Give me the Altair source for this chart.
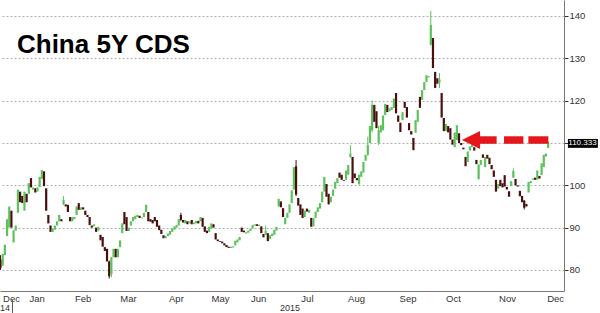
import json
import altair as alt
import pandas as pd

GREEN = "#5cc25c"
DARK = "#4a0e0e"
RED = "#e3161c"
FONT = "Liberation Sans"

# ---- candles (open / close) per month ----
OPEN_DEC14 = [82.5, 81.0, 83.5, 88.0, 90.0, 94.0]
CLOSE_DEC14 = [80.5, 83.8, 86.0, 92.0, 95.0, 90.0]
OPEN_JAN = [86.5, 89.3, 93.5, 98.5, 97.5, 94.0, 98.0, 98.0, 101.7, 99.0, 99.3, 98.5,
            99.6, 101.5, 103.3, 99.3, 93.0, 90.5, 89.0, 89.5, 90.5, 91.5, 92.0]
CLOSE_JAN = [89.4, 90.5, 99.0, 96.0, 95.8, 98.5, 96.0, 100.5, 99.5, 99.5, 98.3, 99.5,
             102.0, 103.6, 99.8, 94.0, 91.0, 89.0, 89.8, 90.5, 91.5, 93.0, 91.5]
OPEN_FEB = [95.5, 95.5, 95.4, 92.5, 91.5, 92.0, 93.0, 95.8, 94.2, 94.8, 94.0, 93.0,
            92.5, 90.5, 90.3, 90.0, 89.3, 88.3, 87.8, 85.4]
CLOSE_FEB = [96.5, 95.0, 93.7, 91.5, 92.5, 92.5, 95.0, 94.2, 94.8, 94.3, 93.0, 92.5,
             90.6, 90.0, 90.8, 89.0, 90.2, 87.0, 85.5, 84.5]
OPEN_MAR = [85.0, 82.0, 79.0, 83.0, 85.0, 83.0, 85.4, 88.7, 93.7, 92.5, 89.2, 90.5,
            91.5, 92.0, 92.5, 92.8, 92.2, 92.5, 93.7, 93.7, 92.0, 91.8]
CLOSE_MAR = [82.0, 78.5, 83.0, 85.0, 83.0, 85.0, 87.0, 91.0, 90.8, 89.2, 90.0, 91.5,
             92.5, 92.8, 93.0, 92.3, 92.4, 93.5, 95.4, 91.5, 91.4, 91.0]
OPEN_APR = [92.5, 91.8, 90.5, 89.5, 88.2, 87.5, 88.0, 88.3, 89.0, 89.5, 90.0, 90.5,
            93.0, 91.8, 91.0, 91.5, 91.0, 91.8, 90.8, 91.0, 91.6, 91.5]
CLOSE_APR = [91.5, 90.2, 89.4, 88.5, 87.5, 88.0, 88.6, 89.2, 89.8, 90.3, 90.6, 92.0,
             91.8, 91.2, 91.8, 90.8, 91.5, 90.8, 91.2, 91.6, 91.0, 92.5]
OPEN_MAY = [92.3, 90.3, 89.3, 89.0, 89.8, 90.8, 88.7, 87.2, 86.8, 86.7, 86.3, 85.9,
            85.5, 85.2, 85.3, 85.8, 86.5, 87.0]
CLOSE_MAY = [90.2, 89.0, 88.7, 90.2, 91.0, 90.0, 87.2, 86.8, 86.6, 86.3, 85.8, 85.4,
             85.2, 85.5, 85.6, 86.9, 87.2, 87.8]
OPEN_JUN = [90.0, 89.3, 88.6, 88.8, 89.2, 89.8, 90.5, 90.8, 90.4, 90.3, 88.5, 88.3,
            88.7, 87.3, 88.0, 88.3, 89.3, 95.0]
CLOSE_JUN = [89.0, 88.9, 88.9, 89.3, 89.7, 90.6, 90.8, 90.4, 90.7, 88.7, 87.7, 89.2,
             86.8, 88.2, 88.6, 89.5, 90.2, 96.8]
OPEN_JUL = [96.2, 94.6, 90.8, 92.3, 93.5, 95.8, 99.0, 104.5, 97.0, 95.5, 94.5, 92.5,
            94.5, 93.5, 92.3, 90.3, 92.3, 93.7, 94.5, 96.0, 98.5, 100.3, 98.0, 96.0, 97.5]
CLOSE_JUL = [94.8, 92.5, 92.3, 93.5, 95.5, 98.8, 104.3, 97.8, 95.2, 93.0, 92.3, 94.0,
             93.8, 94.2, 90.2, 92.3, 93.8, 94.8, 95.8, 98.5, 102.0, 97.3, 95.5, 97.3, 99.0]
OPEN_AUG = [99.2, 100.5, 103.0, 102.5, 101.2, 101.3, 102.5, 106.7, 106.7, 102.8, 101.7,
            100.2, 102.0, 103.0, 105.8, 107.2, 110.0, 113.0, 119.0, 117.5, 110.0, 112.5, 113.0]
CLOSE_AUG = [100.8, 101.7, 101.8, 101.3, 101.0, 103.5, 104.8, 107.5, 100.5, 101.7, 101.2,
             102.5, 103.3, 105.5, 107.2, 109.5, 114.0, 119.0, 115.0, 113.5, 113.0, 114.2, 116.5]
OPEN_SEP = [116.6, 119.0, 117.5, 117.8, 118.3, 121.8, 116.5, 114.8, 115.4, 119.7, 118.5, 114.7,
            112.8, 111.2, 112.4, 115.0, 120.9, 120.2, 122.5, 124.4, 125.5, 133.2, 134.8, 126.8]
CLOSE_SEP = [119.2, 117.3, 118.2, 118.5, 120.5, 117.0, 115.0, 112.6, 117.3, 118.3, 116.0, 113.0,
             112.0, 108.3, 115.4, 117.8, 118.3, 122.5, 124.4, 126.0, 125.8, 137.9, 127.7, 123.0]
OPEN_OCT = [125.3, 124.3, 121.8, 115.9, 112.8, 114.0, 113.5, 110.8, 109.0, 110.7, 112.3, 110.0,
            108.9, 106.7, 105.5, 108.2, 109.0, 109.0, 106.0, 101.5, 104.8, 107.3, 104.3, 107.2]
CLOSE_OCT = [124.0, 125.0, 116.0, 112.8, 114.5, 112.5, 110.8, 109.6, 112.5, 114.2, 110.0, 109.5,
             108.5, 104.5, 108.0, 109.2, 109.5, 108.2, 105.0, 104.8, 106.0, 106.5, 106.7, 106.3]
OPEN_NOV = [106.5, 104.8, 103.5, 101.3, 99.2, 101.3, 100.5, 102.4, 99.6, 98.6, 99.8, 101.8,
            101.5, 100.0, 98.7, 97.5, 96.4, 95.6]
CLOSE_NOV = [105.0, 103.8, 102.0, 98.5, 100.3, 99.8, 99.5, 99.7, 99.0, 97.3, 101.0, 103.4,
             100.0, 99.7, 97.4, 96.0, 94.7, 95.0]
OPEN_DEC15 = [98.3, 100.5, 101.3, 101.8, 101.3, 102.2, 102.4, 104.3, 106.8, 108.8]
CLOSE_DEC15 = [100.8, 101.0, 101.6, 101.3, 103.5, 101.6, 105.2, 107.2, 107.5, 110.333]

MONTH_OPENS = [OPEN_DEC14, OPEN_JAN, OPEN_FEB, OPEN_MAR, OPEN_APR, OPEN_MAY, OPEN_JUN,
               OPEN_JUL, OPEN_AUG, OPEN_SEP, OPEN_OCT, OPEN_NOV, OPEN_DEC15]
MONTH_CLOSES = [CLOSE_DEC14, CLOSE_JAN, CLOSE_FEB, CLOSE_MAR, CLOSE_APR, CLOSE_MAY, CLOSE_JUN,
                CLOSE_JUL, CLOSE_AUG, CLOSE_SEP, CLOSE_OCT, CLOSE_NOV, CLOSE_DEC15]

# visible wicks: candle index, low, high
WICK_IDX = [0, 29, 50, 51, 83, 122, 136, 161, 169, 171, 174, 198, 202, 220, 236, 241]
WICK_LOW = [80.0, 95.3, 78.0, 78.3, 91.5, 88.3, 97.5, 106.5, 107.0, 112.5, 109.5, 133.0, 123.0, 101.3, 101.8, 94.3]
WICK_HIGH = [83.5, 97.5, 82.2, 83.0, 93.5, 90.5, 106.0, 109.5, 111.5, 120.0, 114.0, 141.2, 126.5, 105.0, 104.0, 96.5]

MONTH_NAMES = ["Dec", "Jan", "Feb", "Mar", "Apr", "May", "Jun", "Jul", "Aug", "Sep", "Oct", "Nov", "Dec"]
MONTH_LABEL_POS = [4.8, 16.6, 37.8, 58.65, 80.7, 101.0, 118.5, 141.0, 163.6, 187.3, 208.2, 233.1, 255.2]
Y_TICKS = [80, 85, 90, 95, 100, 105, 110, 115, 120, 125, 130, 135, 140]
X_DOMAIN = [-0.25, 259.3]
Y_DOMAIN = [75.03, 143.78]

LAST_PRICE = "110.333"
ARROW_Y = 110.7
ARROW_HEAD_X = 216.5
ARROW_SEG_START = [220.6, 231.7, 242.9]
ARROW_SEG_END = [228.3, 240.6, 252.1]

# ---- tables ----
opens, closes, starts = [], [], []
for o, c in zip(MONTH_OPENS, MONTH_CLOSES):
    starts.append(len(opens))
    opens += o
    closes += c
BOUNDS = [s - 0.5 for s in starts[1:]]

df = pd.DataFrame({"x": list(range(len(opens))), "y": opens, "y2": closes})
df["dir"] = ["up" if c >= o else "down" for o, c in zip(opens, closes)]
wick = pd.DataFrame({"x": WICK_IDX, "y": WICK_LOW, "y2": WICK_HIGH})
wick["dir"] = ["up" if closes[k] >= opens[k] else "down" for k in WICK_IDX]

xscale = alt.Scale(domain=X_DOMAIN, nice=False, zero=False)
yscale = alt.Scale(domain=Y_DOMAIN, nice=False, zero=False)
cscale = alt.Scale(domain=["up", "down"], range=[GREEN, DARK])

bt = f"indexof({json.dumps(BOUNDS)}, datum.value) >= 0"
lp = json.dumps(MONTH_LABEL_POS)
label_expr = f"indexof({lp}, datum.value) >= 0 ? {json.dumps(MONTH_NAMES)}[indexof({lp}, datum.value)] : ''"

xaxis = alt.Axis(
    values=BOUNDS + MONTH_LABEL_POS, labelExpr=label_expr, title=None,
    tickSize=4, tickColor="#555",
    tickOpacity={"condition": {"test": bt, "value": 1}, "value": 0},
    grid=True, gridColor="#b0b0b0", gridDash=[2, 2],
    gridOpacity={"condition": {"test": bt, "value": 1}, "value": 0},
    domainColor="#777", labelFont=FONT, labelFontSize=9.5, labelColor="#333",
    labelPadding=-2, labelAngle=0, labelFlush=False, labelOverlap=False, zindex=0,
)
yaxis = alt.Axis(
    orient="right", values=Y_TICKS, title=None,
    labelExpr="datum.value % 10 === 0 && datum.value !== 110 ? datum.label : ''",
    tickSize={"condition": {"test": "datum.value % 10 === 0", "value": 4}, "value": 2},
    tickColor="#333",
    grid=True, gridColor="#b0b0b0", gridDash=[2, 2],
    gridOpacity={"condition": {"test": "datum.value % 10 === 0", "value": 1}, "value": 0},
    domainColor="#777", labelFont=FONT, labelFontSize=9.5, labelColor="#333",
    labelPadding=1, labelFlush=False, labelOverlap=False, zindex=0,
)

X = alt.X("x:Q", scale=xscale)
Y = alt.Y("y:Q", scale=yscale)

bodies = alt.Chart(df).mark_rule(strokeWidth=2.2).encode(
    x=alt.X("x:Q", scale=xscale, axis=xaxis),
    y=alt.Y("y:Q", scale=yscale, axis=yaxis), y2="y2:Q",
    color=alt.Color("dir:N", scale=cscale, legend=None),
)
wicks = alt.Chart(wick).mark_rule(strokeWidth=1).encode(
    x=X, y=Y, y2="y2:Q", color=alt.Color("dir:N", scale=cscale, legend=None),
)

# title
title_df = pd.DataFrame({"x": [7.57], "y": [131.33], "t": ["China 5Y CDS"]})
title = alt.Chart(title_df).mark_text(
    align="left", baseline="alphabetic", font=FONT, fontSize=26, fontWeight="bold", color="#000"
).encode(x=X, y=Y, text="t:N")

# arrow
seg_df = pd.DataFrame({"x": ARROW_SEG_START, "x2": ARROW_SEG_END, "y": [ARROW_Y] * 3})
shaft = alt.Chart(seg_df).mark_rule(strokeWidth=7.5, color=RED).encode(x=X, x2="x2:Q", y=Y)
head_df = pd.DataFrame({"x": [ARROW_HEAD_X], "y": [ARROW_Y]})
head = alt.Chart(head_df).mark_point(
    shape="M-1,0L1,-1L1,1Z", filled=True, size=330, color=RED, opacity=1, strokeWidth=0
).encode(x=X, y=Y)

# last price box on the right axis
box_df = pd.DataFrame({"x": [261.1], "x2": [274.9], "y": [108.85], "y2": [110.95]})
box = alt.Chart(box_df).mark_rect(color="#000", clip=False).encode(x=X, x2="x2:Q", y=Y, y2="y2:Q")
box_txt_df = pd.DataFrame({"x": [267.8], "y": [109.9], "t": [LAST_PRICE]})
box_txt = alt.Chart(box_txt_df).mark_text(
    align="center", baseline="middle", font=FONT, fontSize=8, color="#fff", clip=False
).encode(x=X, y=Y, text="t:N")

# year row
yl_df = pd.DataFrame({"x": [4.35], "y": [71.0], "t": ["14"]})
year_l = alt.Chart(yl_df).mark_text(
    align="right", baseline="middle", font=FONT, fontSize=9, color="#333", clip=False
).encode(x=X, y=Y, text="t:N")
yr_df = pd.DataFrame({"x": [128.6], "y": [71.0], "t": ["2015"]})
year_r = alt.Chart(yr_df).mark_text(
    align="left", baseline="middle", font=FONT, fontSize=9, color="#333", clip=False
).encode(x=X, y=Y, text="t:N")
sep_df = pd.DataFrame({"x": [BOUNDS[0]], "y": [72.91], "y2": [69.84]})
sep = alt.Chart(sep_df).mark_rule(color="#555", strokeWidth=1, clip=False).encode(x=X, y=Y, y2="y2:Q")

chart = alt.layer(bodies, wicks, title, shaft, head, box, box_txt, year_l, year_r, sep).properties(
    width=564, height=291,
    autosize=alt.AutoSizeParams(type="none"),
    padding={"left": 0, "right": 36, "top": 0, "bottom": 22},
    background="#ffffff",
).configure_view(stroke=None)

chart.save("out.html", embed_options={"renderer": "svg", "actions": False})
